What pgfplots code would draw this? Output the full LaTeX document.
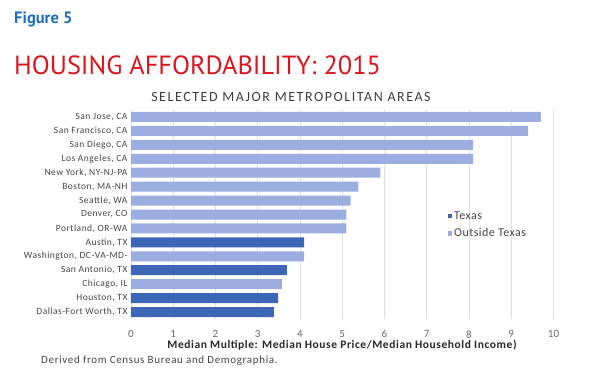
\documentclass[border=0pt]{standalone}
\usepackage{pgfplots}
\pgfplotsset{compat=1.18}
\usepackage{fontspec}
\setmainfont{Carlito}
\newfontfamily\titlefont{PT Sans}
\definecolor{texas}{HTML}{3E66B6}
\definecolor{outside}{HTML}{9CAEE0}
\definecolor{figblue}{HTML}{1F6EB8}
\definecolor{titlered}{HTML}{D9161F}
\definecolor{txt}{HTML}{444444}
\begin{document}
\begin{tikzpicture}
\path[use as bounding box] (0pt,0pt) rectangle (595pt,-378pt);
\node[anchor=west, text=figblue, font=\titlefont\bfseries\fontsize{16.5}{17}\selectfont, inner sep=0] at (14pt,-19pt) {Figure 5};
\node[anchor=west, text=titlered, font=\titlefont\fontsize{26.3}{27}\selectfont, inner sep=0] at (14pt,-65pt) {HOUSING AFFORDABILITY: 2015};
\node[text=txt!90!black, font=\fontsize{14}{14}\selectfont\addfontfeature{LetterSpace=11}, inner sep=0] at (291pt,-97pt) {SELECTED MAJOR METROPOLITAN AREAS};
\node[anchor=west, text=txt, font=\fontsize{11}{11}\selectfont\addfontfeature{LetterSpace=6}, inner sep=0] at (41pt,-361pt) {Derived from Census Bureau and Demographia.};
\begin{axis}[
  at={(131pt,-319pt)}, anchor=south west,
  scale only axis, width=422.5pt, height=209pt,
  xmin=0, xmax=10, ymin=-0.5, ymax=14.5,
  xbar, bar width=10pt, bar shift=0pt,
  xtick={0,...,10},
  ytick={0,...,14},
  yticklabels={{Dallas-Fort Worth, TX},{Houston, TX},{Chicago, IL},{San Antonio, TX},{Washington, DC-VA-MD-},{Austin, TX},{Portland, OR-WA},{Denver, CO},{Seattle, WA},{Boston, MA-NH},{New York, NY-NJ-PA},{Los Angeles, CA},{San Diego, CA},{San Francisco, CA},{San Jose, CA}},
  yticklabel style={font=\fontsize{9.5}{9}\selectfont\addfontfeature{LetterSpace=5}, text=txt},
  xticklabel style={font=\fontsize{11}{10}\selectfont, text=txt!80},
  /pgf/number format/assume math mode=true,
  major tick length=0pt,
  axis line style={draw=none},
  xmajorgrids, grid style={gray!25, line width=0.6pt},
  xlabel={\textbf{Median Multiple: Median House Price/Median Household Income)}},
  xlabel style={font=\fontsize{11.5}{11}\selectfont\addfontfeature{LetterSpace=5}, text=black!85, yshift=5pt},
  xticklabel shift=8pt,
  legend style={at={(0.742,0.535)}, anchor=north west, draw=none, fill=none,
    font=\fontsize{12}{12}\selectfont\addfontfeature{LetterSpace=4}, text=txt, row sep=4pt,
    legend cell align=left},
  legend image code/.code={\fill[#1] (0pt,-2.2pt) rectangle (4.4pt,2.2pt);},
]
\addplot[fill=texas, draw=none] coordinates {(3.38,0) (3.48,1) (3.69,3) (4.1,5)};
\addlegendentry{Texas}
\addplot[fill=outside, draw=none] coordinates {(3.57,2) (4.1,4) (5.1,6) (5.1,7) (5.2,8) (5.38,9) (5.9,10) (8.1,11) (8.1,12) (9.4,13) (9.7,14)};
\addlegendentry{Outside Texas}
\end{axis}
\end{tikzpicture}
\end{document}
